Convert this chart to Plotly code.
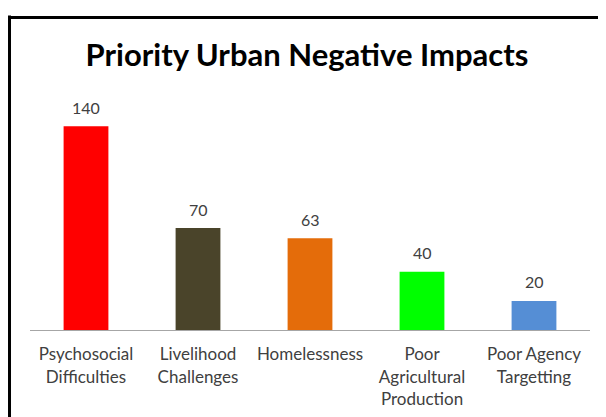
import plotly.graph_objects as go

categories = ["Psychosocial<br>Difficulties", "Livelihood<br>Challenges", "Homelessness",
              "Poor<br>Agricultural<br>Production", "Poor Agency<br>Targetting"]
values = [140, 70, 63, 40, 20]
colors = ["#ff0000", "#4a442a", "#e46c0a", "#00ff00", "#558ed5"]

fig = go.Figure(go.Bar(
    x=categories, y=values, marker=dict(color=colors, line=dict(width=0)),
    cliponaxis=False, width=0.4,
))

annotations = [
    dict(x=c, y=v, xref="x", yref="y", text=str(v), showarrow=False,
         yanchor="middle", yshift=19,
         font=dict(family="Lato", size=16, color="#404040"))
    for c, v in zip(categories, values)
]

fig.update_layout(
    width=598, height=409,
    margin=dict(l=22, r=16, t=89, b=87),
    paper_bgcolor="white", plot_bgcolor="white",
    title=dict(text="<b>Priority Urban Negative Impacts</b>", x=0.5, xanchor="center",
               y=0.885, yanchor="middle",
               font=dict(family="Lato", size=31, color="#000000")),
    font=dict(family="Lato", size=17, color="#404040"),
    showlegend=False,
    annotations=annotations,
    xaxis=dict(showline=True, linecolor="#a6a6a6", linewidth=1, ticks="", showgrid=False,
               ticklabelstandoff=9, automargin=False,
               tickfont=dict(family="Lato", size=17, color="#404040")),
    yaxis=dict(visible=False, range=[0, 160], showgrid=False),
    shapes=[
        dict(type="line", xref="paper", yref="paper", x0=-0.0366, x1=1.1, y0=1.341, y1=1.341,
             line=dict(color="black", width=3)),
        dict(type="line", xref="paper", yref="paper", x0=-0.0366, x1=-0.0366, y0=1.35, y1=-0.5,
             line=dict(color="black", width=3)),
    ],
)

fig.write_html("out.html")
